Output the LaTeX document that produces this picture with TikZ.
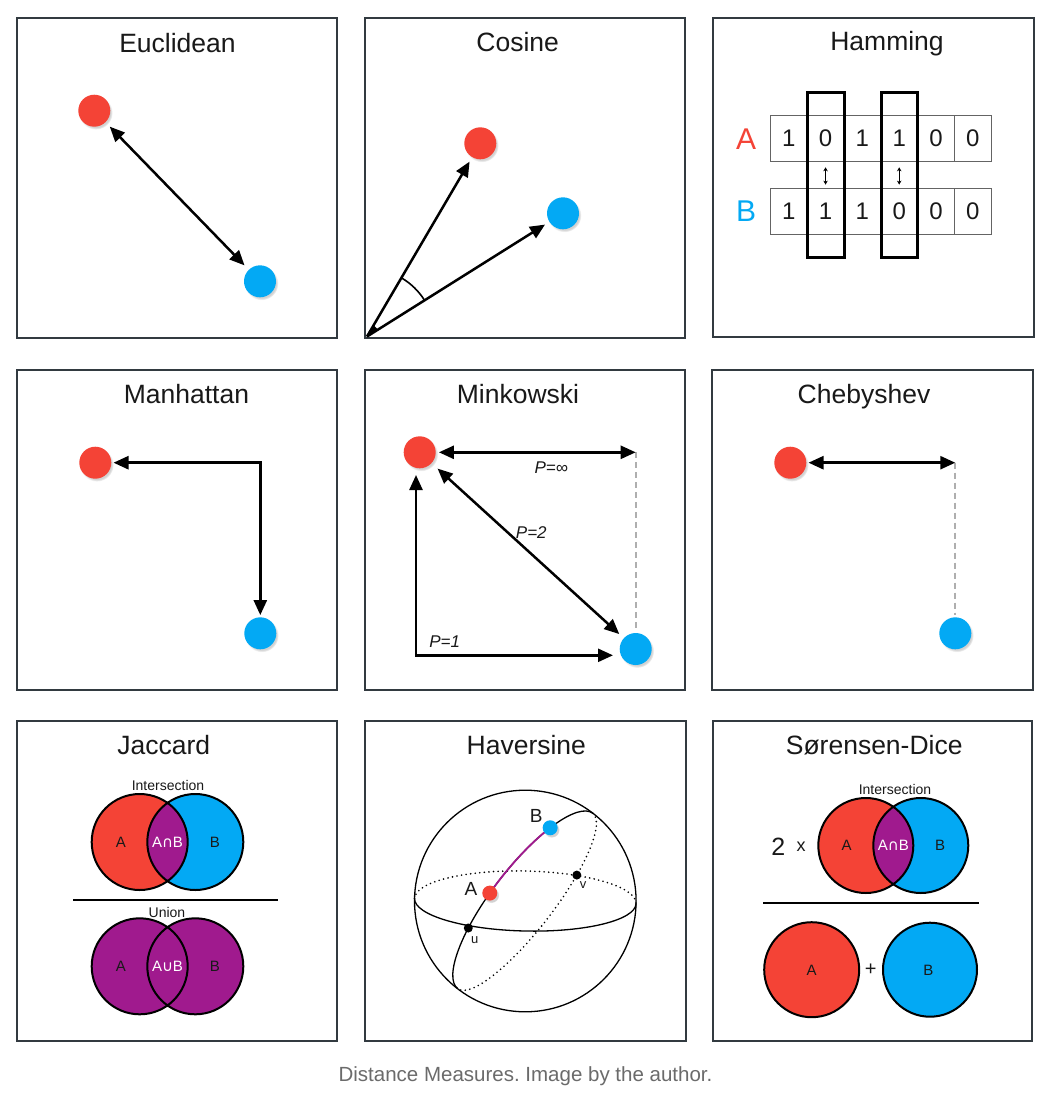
\documentclass[tikz,border=0pt]{standalone}
\usepackage{fontspec}
\setmainfont{Liberation Sans}
\newfontfamily\dejavu{DejaVu Sans}
\usetikzlibrary{arrows.meta,shadows,calc}
\definecolor{myred}{RGB}{244,67,54}
\definecolor{myblue}{RGB}{3,169,244}
\definecolor{mypurple}{RGB}{160,26,142}
\definecolor{bordercol}{RGB}{50,58,64}
\definecolor{captioncol}{RGB}{107,107,107}
\definecolor{textcol}{RGB}{25,25,25}
\definecolor{dashcol}{RGB}{175,175,175}
\definecolor{cellcol}{RGB}{100,100,100}
\newcommand{\fsz}[1]{\fontsize{#1pt}{#1pt}\selectfont}
\frenchspacing
\begin{document}
\begin{tikzpicture}[x=1pt,y=-1pt,
  panel/.style={draw=bordercol,line width=2pt},
  ttl/.style={anchor=base,font=\fsz{26.5},text=textcol,inner sep=0pt},
  shad/.style={circular drop shadow={shadow xshift=1.5pt,shadow yshift=-2pt,shadow scale=1.05,opacity=0.35}},
  dot/.style={circle,inner sep=0pt,minimum size=32pt,shad},
  rdot/.style={dot,fill=myred},
  bdot/.style={dot,fill=myblue},
  tip/.style={line width=2.5pt,-{Triangle[length=15pt,width=13pt]}},
  dtip/.style={line width=2.5pt,{Triangle[length=15pt,width=13pt]}-{Triangle[length=15pt,width=13pt]}},
  dashln/.style={draw=dashcol,line width=1.8pt,dash pattern=on 6pt off 4pt},
  plbl/.style={font=\itshape\fsz{17},text=textcol,inner sep=0pt},
  cell/.style={draw=cellcol,line width=1.2pt,minimum width=36.83pt,minimum height=46pt,inner sep=0pt,font=\fsz{24},text=textcol},
  venn/.style={draw=black,line width=2pt},
  vlbl/.style={font=\fsz{15},text=textcol,inner sep=0pt},
  wlbl/.style={font=\fsz{15},text=white,inner sep=0pt},
  small/.style={font=\fsz{14},text=textcol,inner sep=0pt},
  sph/.style={line width=1.3pt},
  dotted sph/.style={line width=1.8pt,line cap=round,dash pattern=on 0pt off 4.6pt},
]
\useasboundingbox (0,0) rectangle (1050,1096);
\fill[white] (0,0) rectangle (1050,1096);

% ---------- Euclidean ----------
\draw[panel] (17,18) rectangle (337,338);
\node[ttl] (t1) at (177.5,52) {Euclidean};
\node[rdot] (er) at (94.3,110.7) {};
\node[bdot] (eb) at (260,281.3) {};
\draw[dtip,shorten <=6pt,shorten >=6pt] (er) -- (eb);

% ---------- Cosine ----------
\draw[panel] (365,18) rectangle (685,338);
\node[ttl] (t2) at (517.7,51) {Cosine};
\node[rdot] (cr) at (480.3,143.3) {};
\node[bdot] (cb) at (563,213.3) {};
\coordinate (co) at (367,336.5);
\draw[tip,shorten >=5pt] (co) -- (cr);
\draw[tip,shorten >=5pt] (co) -- (cb);
\draw[line width=1.6pt] ($(co)+(-32.2:68)$) arc[start angle=-32.2,end angle=-59.6,radius=68];
\fill (co) -- ($(co)!13pt!(cr)$) -- ($(co)!13pt!(cb)$) -- cycle;

% ---------- Hamming ----------
\draw[panel] (713,18) rectangle (1034,336.5);
\node[ttl] (t3) at (887,50) {Hamming};
\foreach \i/\a/\b in {1/1/1,2/0/1,3/1/1,4/1/0,5/0/0,6/0/0}{
  \node[cell] (hA\i) at ({770.3+36.83*(\i-0.5)},138.7) {\a};
  \node[cell] (hB\i) at ({770.3+36.83*(\i-0.5)},211.2) {\b};
}
\draw[line width=3pt] (807.7,92.7) rectangle (844.7,257.3);
\draw[line width=3pt] (881.3,92.7) rectangle (917.7,257.3);
\node[font=\fsz{30},text=myred] (hAl) at (746,138.7) {A};
\node[font=\fsz{30},text=myblue] (hBl) at (746,211.2) {B};
\draw[line width=1.1pt,{Stealth[length=4pt,width=4.5pt]}-{Stealth[length=4pt,width=4.5pt]}] ([yshift=-5pt]hA2.south) -- ([yshift=3pt]hB2.north);
\draw[line width=1.1pt,{Stealth[length=4pt,width=4.5pt]}-{Stealth[length=4pt,width=4.5pt]}] ([yshift=-5pt]hA4.south) -- ([yshift=3pt]hB4.north);

% ---------- Manhattan ----------
\draw[panel] (17,370) rectangle (337,690);
\node[ttl] (t4) at (186.4,403.3) {Manhattan};
\node[rdot] (mr) at (95.3,462.7) {};
\node[bdot] (mb) at (260.3,633.3) {};
\draw[dtip,shorten <=2pt,shorten >=2pt] (mr.east) -| (mb.north);

% ---------- Minkowski ----------
\draw[panel] (365,370) rectangle (685,690);
\node[ttl] (t5) at (518,403) {Minkowski};
\node[rdot] (kr) at (419.7,452.3) {};
\node[bdot] (kb) at (635.7,649) {};
\coordinate (kt) at (635.7,452.3);
\draw[dashln] (kt) -- ([yshift=2pt]kb.north);
\draw[dtip,shorten <=3pt] (kr.east) -- (kt);
\draw[dtip,shorten <=8pt,shorten >=6pt] (kr) -- (kb);
\coordinate (k1) at (416,475);
\coordinate (k2) at (613,655.3);
\draw[dtip] (k1) |- (k2);
\node[plbl] (pinf) at (551.3,467.3) {P=∞};
\node[plbl] (p2) at (531.3,532.3) {P=2};
\node[plbl] (p1) at (444.7,642) {P=1};

% ---------- Chebyshev ----------
\draw[panel] (712,370) rectangle (1033,690);
\node[ttl] (t6) at (864,403.3) {Chebyshev};
\node[rdot] (sr) at (790.3,462.7) {};
\node[bdot] (sb) at (955.3,633.3) {};
\coordinate (st) at (955.3,462.7);
\draw[dashln] (st) -- ([yshift=2pt]sb.north);
\draw[dtip,shorten <=2pt] (sr.east) -- (st);

% ---------- Jaccard ----------
\draw[panel] (17,721) rectangle (337,1041);
\node[ttl] (t7) at (163.7,754) {Jaccard};
\coordinate (jA) at (139.7,842);
\coordinate (jB) at (195.3,842);
\fill[myred] (jA) circle[radius=48];
\fill[myblue] (jB) circle[radius=48];
\begin{scope}
  \clip (jA) circle[radius=48];
  \fill[mypurple] (jB) circle[radius=48];
\end{scope}
\draw[venn] (jA) circle[radius=48] (jB) circle[radius=48];
\node[vlbl] (jAl) at (121,842) {A};
\node[wlbl] (jABl) at (167.5,842) {A{\dejavu ∩}B};
\node[vlbl] (jBl) at (215,842) {B};
\node[small] (jint) at (168,785) {Intersection};
\draw[line width=2pt] (73,900) -- (278,900);
\node[small] (juni) at (167,912) {Union};
\coordinate (jC) at (139.7,966.3);
\coordinate (jD) at (195.3,966.3);
\fill[mypurple] (jC) circle[radius=48] (jD) circle[radius=48];
\draw[venn] (jC) circle[radius=48] (jD) circle[radius=48];
\node[vlbl] (jCl) at (121,966.3) {A};
\node[wlbl] (jCDl) at (167.5,966.3) {A{\dejavu ∪}B};
\node[vlbl] (jDl) at (215,966.3) {B};

% ---------- Haversine ----------
\draw[panel] (365,721) rectangle (686,1041);
\node[ttl] (t8) at (526.3,754) {Haversine};
\coordinate (hc) at (525.3,901);
\draw[sph] (hc) circle[radius=110.8];
\begin{scope}[shift={(hc)},rotate=-1.3]
  \draw[sph] (0:110.8 and 30) arc[start angle=0,end angle=180,x radius=110.8,y radius=30];
  \draw[dotted sph] (180:110.8 and 30) arc[start angle=180,end angle=360,x radius=110.8,y radius=30];
\end{scope}
\begin{scope}[shift={(hc)},rotate=52.4]
  \draw[sph] (180:110.7 and 33.3) arc[start angle=180,end angle=360,x radius=110.7,y radius=33.3];
  \draw[dotted sph] (0:110.7 and 28.3) arc[start angle=0,end angle=180,x radius=110.7,y radius=28.3];
  \draw[mypurple,line width=1.8pt] (262:110.7 and 33.3) arc[start angle=262,end angle=311.4,x radius=110.7,y radius=33.3];
  \coordinate (gA) at (262:110.7 and 33.3);
  \coordinate (gB) at (311.4:110.7 and 33.3);
  \coordinate (gu) at (239.5:110.7 and 33.3);
  \coordinate (gv) at (62:110.7 and 28.3);
\end{scope}
\node[circle,fill=myred,minimum size=15pt,inner sep=0pt,shad] (hdA) at (gA) {};
\node[circle,fill=myblue,minimum size=15pt,inner sep=0pt,shad] (hdB) at (gB) {};
\node[circle,fill=black,minimum size=9pt,inner sep=0pt] (hdu) at (gu) {};
\node[circle,fill=black,minimum size=9pt,inner sep=0pt] (hdv) at (gv) {};
\node[font=\fsz{19},text=textcol,inner sep=0pt] (hlA) at (471,888.7) {A};
\node[font=\fsz{19},text=textcol,inner sep=0pt] (hlB) at (536.3,816.3) {B};
\node[font=\fsz{13},text=textcol,inner sep=0pt] (hlu) at (474.7,939.7) {u};
\node[font=\fsz{13},text=textcol,inner sep=0pt] (hlv) at (583,884.7) {v};

% ---------- Sorensen-Dice ----------
\draw[panel] (713,721) rectangle (1032,1041);
\node[ttl] (t9) at (874.2,754) {Sørensen-Dice};
\coordinate (dA) at (865.8,845.5);
\coordinate (dB) at (920.8,845.5);
\fill[myred] (dA) circle[radius=47.5];
\fill[myblue] (dB) circle[radius=47.5];
\begin{scope}
  \clip (dA) circle[radius=47.5];
  \fill[mypurple] (dB) circle[radius=47.5];
\end{scope}
\draw[venn] (dA) circle[radius=47.5] (dB) circle[radius=47.5];
\node[vlbl] (dAl) at (846.7,845.7) {A};
\node[wlbl] (dABl) at (893.3,845.7) {A{\dejavu ∩}B};
\node[vlbl] (dBl) at (940,845.7) {B};
\node[small] (dint) at (895,789) {Intersection};
\node[font=\fsz{25},text=textcol,inner sep=0pt] (two) at (778.3,846.3) {2};
\node[font=\fsz{18},text=textcol,inner sep=0pt,anchor=base] (times) at (801,851) {x};
\draw[line width=2pt] (763.3,903) -- (979.3,903);
\coordinate (dC) at (811.7,969.7);
\coordinate (dD) at (930,969.7);
\fill[myred] (dC) circle[radius=47.5];
\fill[myblue] (dD) circle[radius=47];
\draw[venn] (dC) circle[radius=47.5] (dD) circle[radius=47];
\node[vlbl] (dCl) at (811.7,970.3) {A};
\node[vlbl] (dDl) at (928.3,970.3) {B};
\node[font=\fsz{20},text=textcol,inner sep=0pt] (plus) at (870.7,969.7) {+};

% ---------- caption ----------
\node[anchor=base,font=\fsz{20.5},text=captioncol,inner sep=0pt] (cap) at (525.5,1081.7) {Distance Measures. Image by the author.};
\end{tikzpicture}
\end{document}
